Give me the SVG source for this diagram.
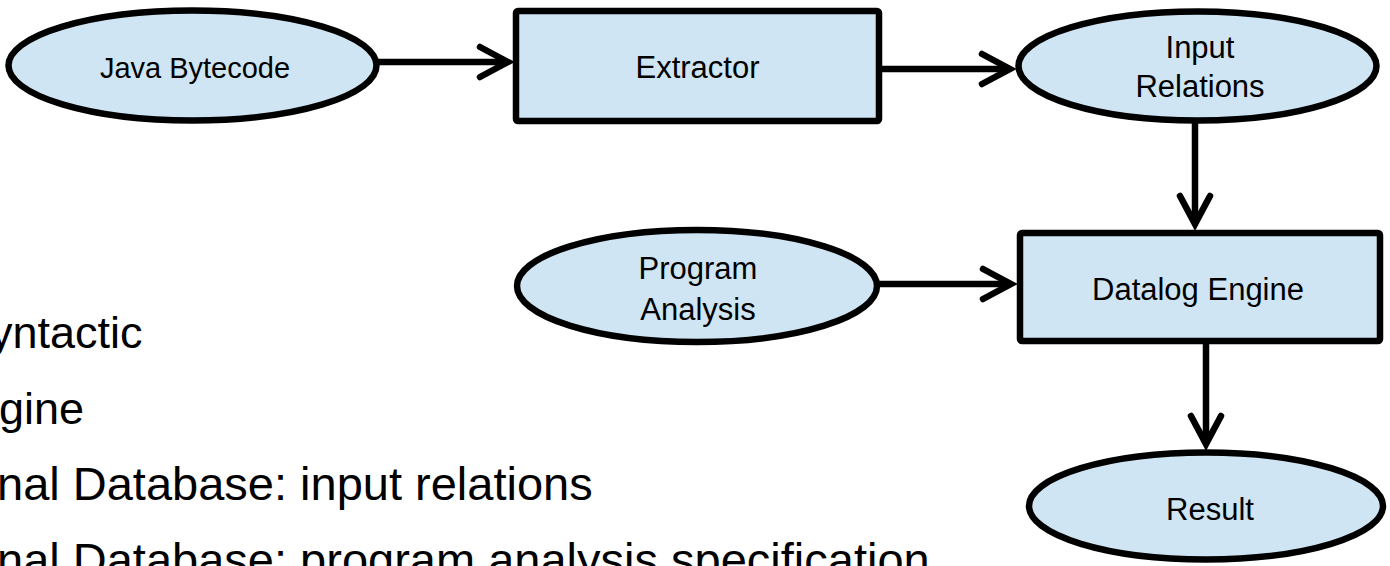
<svg xmlns="http://www.w3.org/2000/svg" width="1390" height="566" viewBox="0 0 1390 566">
  <style>
    .node { fill: #cfe5f3; stroke: #000; stroke-width: 6.5; }
    .lbl { font-family: "Liberation Sans", Arial, sans-serif; fill: #000; text-anchor: middle; }
    .body { font-family: "Liberation Sans", Arial, sans-serif; fill: #000; }
    .conn { fill: none; stroke: #000; stroke-width: 6.5; }
  </style>
  <defs>
    <marker id="chev" markerUnits="userSpaceOnUse" viewBox="-40 -22 50 44" refX="0" refY="0" markerWidth="50" markerHeight="44" orient="auto" overflow="visible">
      <path d="M-28,-15 L0,0 L-28,15" fill="none" stroke="#000" stroke-width="6.5" stroke-linecap="round" stroke-linejoin="miter"/>
    </marker>
  </defs>
  <rect width="1390" height="566" fill="#fff"/>

  <g id="bullets">
    <text class="body" x="-10" y="348" font-size="45">yntactic</text>
    <text class="body" x="-1" y="424" font-size="45">gine</text>
    <text class="body" x="-3" y="500" font-size="47">nal Database: input relations</text>
    <text class="body" x="-3" y="576" font-size="47">nal Database: program analysis specification</text>
  </g>

  <g id="java-bytecode">
    <ellipse class="node" cx="192.5" cy="65.5" rx="184" ry="55"/>
    <text class="lbl" x="195" y="78" font-size="29">Java Bytecode</text>
  </g>
  <g id="extractor">
    <rect class="node" x="516" y="11" width="363" height="110" rx="2"/>
    <text class="lbl" x="697.5" y="78" font-size="31">Extractor</text>
  </g>
  <g id="input-relations">
    <ellipse class="node" cx="1197.5" cy="66" rx="179" ry="54.5"/>
    <text class="lbl" x="1200" y="58" font-size="31">Input</text>
    <text class="lbl" x="1200" y="97" font-size="31">Relations</text>
  </g>
  <g id="program-analysis">
    <ellipse class="node" cx="697" cy="286" rx="180" ry="56"/>
    <text class="lbl" x="698" y="279" font-size="31">Program</text>
    <text class="lbl" x="698" y="320" font-size="31">Analysis</text>
  </g>
  <g id="datalog-engine">
    <rect class="node" x="1020" y="233" width="360" height="108" rx="2"/>
    <text class="lbl" x="1198" y="300" font-size="31">Datalog Engine</text>
  </g>
  <g id="result">
    <ellipse class="node" cx="1206" cy="506" rx="177" ry="53.5"/>
    <text class="lbl" x="1210" y="520" font-size="31">Result</text>
  </g>

  <g id="connectors">
    <path class="conn" d="M378,62 H508" marker-end="url(#chev)"/>
    <path class="conn" d="M882,69 H1010" marker-end="url(#chev)"/>
    <path class="conn" d="M1195,121 V224" marker-end="url(#chev)"/>
    <path class="conn" d="M877,284 H1011" marker-end="url(#chev)"/>
    <path class="conn" d="M1206,344 V444" marker-end="url(#chev)"/>
  </g>
</svg>
